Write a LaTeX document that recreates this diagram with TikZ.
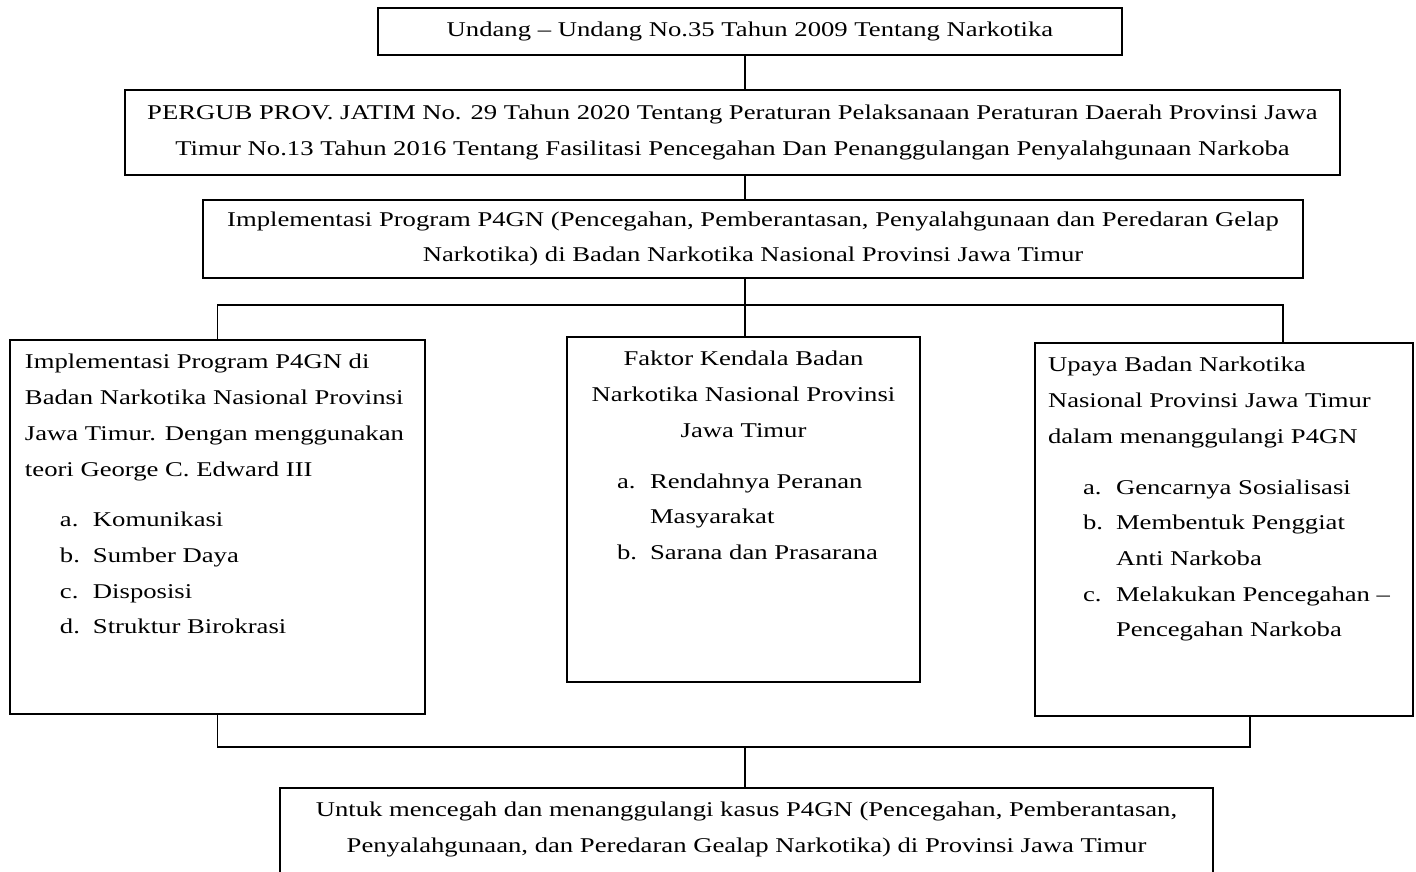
\documentclass[tikz,border=0pt]{standalone}
\usepackage{fontspec}
\setmainfont{Liberation Serif}[FakeStretch=1.27]
\usepackage{tikz}
\usetikzlibrary{positioning}

% list items inside the boxes
\newcommand{\butir}[2]{\hspace*{17.5pt}\makebox[16.5pt][l]{#1}#2}
\newcommand{\lanjut}[1]{\hspace*{34pt}#1}

\begin{document}
\begin{tikzpicture}[
    x=1pt, y=1pt,
    font=\fontsize{10.5}{17.85}\selectfont,
    kotak/.style={
        rectangle,
        draw=black,
        line width=0.9pt,
        align=center,
        outer sep=0pt,
        inner xsep=7.5pt,
        inner ysep=2pt
    },
    garis/.style={
        line width=0.6pt,
        color=black
    }
]
\useasboundingbox (0,0) rectangle (708,-435.5);

\node[kotak, minimum width=372pt, minimum height=23.5pt] (uu) at (375,-15.75) {Undang – Undang No.35 Tahun 2009 Tentang Narkotika};
\node[kotak, below=17.5pt of uu, xshift=-8.75pt, minimum width=607.5pt, minimum height=42.5pt] (pergub) {PERGUB PROV. JATIM No. 29 Tahun 2020 Tentang Peraturan Pelaksanaan Peraturan Daerah Provinsi Jawa\\ Timur No.13 Tahun 2016 Tentang Fasilitasi Pencegahan Dan Penanggulangan Penyalahgunaan Narkoba};
\node[kotak, below=12.5pt of pergub, xshift=10.25pt, minimum width=550pt, minimum height=39pt] (impl) {Implementasi Program P4GN (Pencegahan, Pemberantasan, Penyalahgunaan dan Peredaran Gelap\\ Narkotika) di Badan Narkotika Nasional Provinsi Jawa Timur};

\node[kotak, below=29.5pt of impl, xshift=-4.75pt] (tengah) {\parbox[c][168.5pt][t]{161.5pt}{\centering
    \begin{tabular}[b]{@{}c@{}}Faktor Kendala Badan\\ Narkotika Nasional Provinsi\\ Jawa Timur\end{tabular}\par
    \vspace{7.5pt}\raggedright
    \begin{tabular}[t]{@{}l@{}}\butir{a.}{Rendahnya Peranan}\\ \lanjut{Masyarakat}\\ \butir{b.}{Sarana dan Prasarana}\end{tabular}}};
\node[kotak, left=71pt of tengah, yshift=-8.75pt] (kiri) {\parbox[c][183pt][t]{192.5pt}{\raggedright
    \begin{tabular}[b]{@{}l@{}}Implementasi Program P4GN di\\ Badan Narkotika Nasional Provinsi\\ Jawa Timur. Dengan menggunakan\\ teori George C. Edward III\end{tabular}\par
    \vspace{7.5pt}
    \begin{tabular}[t]{@{}l@{}}\butir{a.}{Komunikasi}\\ \butir{b.}{Sumber Daya}\\ \butir{c.}{Disposisi}\\ \butir{d.}{Struktur Birokrasi}\end{tabular}}};
\node[kotak, right=57.5pt of tengah, yshift=-10pt, inner xsep=6.5pt] (kanan) {\parbox[c][182.5pt][t]{176pt}{\raggedright
    \begin{tabular}[b]{@{}l@{}}Upaya Badan Narkotika\\ Nasional Provinsi Jawa Timur\\ dalam menanggulangi P4GN\end{tabular}\par
    \vspace{7.5pt}
    \begin{tabular}[t]{@{}l@{}}\butir{a.}{Gencarnya Sosialisasi}\\ \butir{b.}{Membentuk Penggiat}\\ \lanjut{Anti Narkoba}\\ \butir{c.}{Melakukan Pencegahan –}\\ \lanjut{Pencegahan Narkoba}\end{tabular}}};

\node[kotak, below=53pt of tengah, xshift=1.5pt, inner xsep=7.25pt] (hasil) {\parbox[c][50pt][t]{452pt}{\centering
    \begin{tabular}[t]{@{}c@{}}Untuk mencegah dan menanggulangi kasus P4GN (Pencegahan, Pemberantasan,\\ Penyalahgunaan, dan Peredaran Gealap Narkotika) di Provinsi Jawa Timur\end{tabular}}};

% connectors
\coordinate (batang) at (372.5,0);
\coordinate (cabang) at (372.5,-152.5);
\coordinate (sisikanan) at (641.5,0);
\coordinate (gabung) at (372.5,-373.5);
\coordinate (sisikananbawah) at (625,0);

\draw[garis] (uu.south -| batang) -- (pergub.north -| batang);
\draw[garis] (pergub.south -| batang) -- (impl.north -| batang);
\draw[garis] (impl.south -| batang) -- (tengah.north -| batang);
\draw[garis] (kiri.north) |- (cabang) -| (kanan.north -| sisikanan);
\draw[garis] (kiri.south) |- (gabung) -| (kanan.south -| sisikananbawah);
\draw[garis] (gabung) -- (gabung |- hasil.north);

\end{tikzpicture}
\end{document}
